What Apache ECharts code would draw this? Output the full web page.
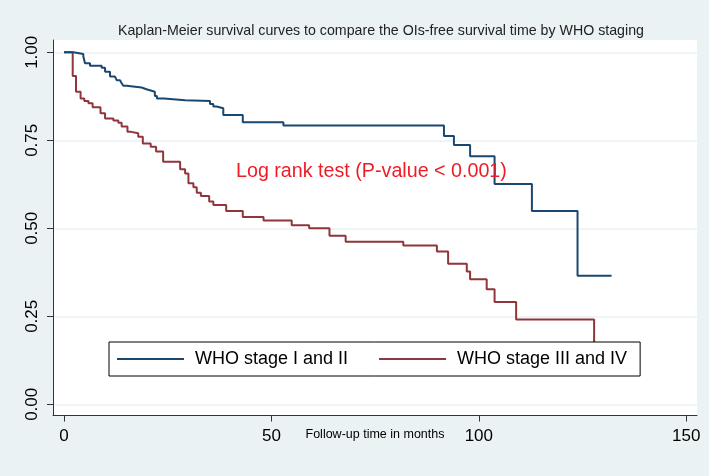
<!DOCTYPE html>
<html>
<head>
<meta charset="utf-8">
<script src="https://cdn.jsdelivr.net/npm/echarts@6/dist/echarts.min.js"></script>
<style>
html,body{margin:0;padding:0;background:#EAF2F3;}
#chart{width:709px;height:476px;}
</style>
</head>
<body>
<div id="chart"></div>
<script>
// ---- data ----
var titleText = 'Kaplan-Meier survival curves to compare the OIs-free survival time by WHO staging';
var xAxisName = 'Follow-up time in months';
var annotationText = 'Log rank test (P-value < 0.001)';
var seriesNames = ['WHO stage I and II', 'WHO stage III and IV'];
var xTicks = [0, 50, 100, 150];
var yTicks = [0, 0.25, 0.5, 0.75, 1];

// WHO stage I and II: time of each step and survival after it
var blueT = [0, 2.25, 4.66, 5.06, 6.27, 9.08, 9.9, 11.1, 12.3, 12.7, 13.5, 13.9, 14.3, 15.1, 18.7, 19.9, 21.1, 21.9, 22.4, 24.1, 29.2, 35.2, 36.0, 36.8, 38.4, 43.1, 52.9, 91.6, 94.0, 97.9, 103.8, 112.8, 123.8, 132.0];
var blueS = [1, 0.995, 0.989, 0.969, 0.962, 0.956, 0.945, 0.931, 0.926, 0.921, 0.917, 0.912, 0.905, 0.900, 0.895, 0.891, 0.888, 0.876, 0.869, 0.864, 0.862, 0.853, 0.846, 0.841, 0.822, 0.801, 0.792, 0.762, 0.737, 0.705, 0.626, 0.549, 0.365, 0.365];

// WHO stage III and IV
var redT = [0, 2.1, 2.9, 4.0, 4.9, 5.9, 6.9, 8.8, 9.9, 11.9, 13.1, 13.9, 15.3, 16.2, 17.9, 19.0, 20.9, 22.2, 23.9, 28.0, 29.2, 30.0, 31.2, 32.0, 33.0, 35.0, 36.0, 39.1, 43.1, 48.1, 54.9, 59.1, 64.0, 67.9, 81.8, 89.9, 92.6, 97.1, 97.9, 101.9, 103.8, 109.0, 127.8];
var redS = [1, 0.933, 0.888, 0.869, 0.862, 0.855, 0.844, 0.827, 0.812, 0.806, 0.800, 0.789, 0.774, 0.770, 0.760, 0.741, 0.732, 0.718, 0.689, 0.668, 0.656, 0.628, 0.617, 0.601, 0.592, 0.576, 0.566, 0.549, 0.532, 0.522, 0.509, 0.500, 0.479, 0.462, 0.451, 0.434, 0.399, 0.377, 0.355, 0.327, 0.291, 0.241, 0.17];

function pairs(t, s) { return t.map(function (v, i) { return [v, s[i]]; }); }

var chart = echarts.init(document.getElementById('chart'), null, {renderer: 'canvas'});
var FONT = '"Liberation Sans", Arial, Helvetica, sans-serif';
var LINE_ICON = 'path://M0,0 L67,0 L67,2 L0,2 Z';

chart.setOption({
  backgroundColor: '#EAF2F3',
  animation: false,
  textStyle: {fontFamily: FONT},
  title: {
    text: titleText,
    left: 118,
    top: 24,
    padding: 0,
    textStyle: {fontFamily: FONT, fontSize: 14.2, fontWeight: 'normal', color: '#222'}
  },
  grid: {
    left: 53, right: 12, top: 40, bottom: 60.5,
    show: true, backgroundColor: '#ffffff', borderWidth: 0
  },
  xAxis: {
    type: 'value',
    min: -2.65, max: 152.6,
    name: xAxisName,
    nameLocation: 'middle',
    nameGap: 13,
    nameMoveOverlap: false,
    nameTextStyle: {fontFamily: FONT, fontSize: 12.5, color: '#000', verticalAlign: 'top'},
    axisLine: {show: true, onZero: false, lineStyle: {color: '#333', width: 1}},
    axisTick: {show: true, length: 6, lineStyle: {color: '#333'}, customValues: xTicks},
    axisLabel: {customValues: xTicks, fontFamily: FONT, fontSize: 17, color: '#000', margin: 12},
    splitLine: {show: false}
  },
  yAxis: {
    type: 'value',
    min: -0.0318, max: 1.035,
    axisLine: {show: true, onZero: false, lineStyle: {color: '#333', width: 1}},
    axisTick: {show: true, length: 6, lineStyle: {color: '#333'}, customValues: yTicks},
    axisLabel: {
      customValues: yTicks, rotate: 90, fontFamily: FONT, fontSize: 17, color: '#000', margin: 12,
      formatter: function (v) { return v.toFixed(2); }
    },
    splitLine: {show: true, lineStyle: {color: '#EAF2F3', width: 1.5}}
  },
  legend: {
    left: 109, top: 342,
    orient: 'horizontal',
    padding: [8, 13, 8, 8],
    itemGap: 31,
    itemWidth: 67,
    itemHeight: 18,
    symbolKeepAspect: true,
    backgroundColor: '#ffffff',
    borderColor: '#000',
    borderWidth: 1,
    borderRadius: 0,
    textStyle: {fontFamily: FONT, fontSize: 18, color: '#000', padding: [0, 0, 0, 6]},
    data: [
      {name: seriesNames[0], icon: LINE_ICON, itemStyle: {color: '#1a476f'}},
      {name: seriesNames[1], icon: LINE_ICON, itemStyle: {color: '#90353b'}}
    ]
  },
  series: [
    {
      name: seriesNames[0], type: 'line', step: 'end', symbol: 'none',
      data: pairs(blueT, blueS),
      lineStyle: {color: '#1a476f', width: 2},
      itemStyle: {color: '#1a476f'},
      z: 3
    },
    {
      name: seriesNames[1], type: 'line', step: 'end', symbol: 'none',
      data: pairs(redT, redS),
      lineStyle: {color: '#90353b', width: 2},
      itemStyle: {color: '#90353b'},
      z: 2
    }
  ],
  graphic: [{
    type: 'text',
    left: 236, top: 162,
    z: 10,
    style: {text: annotationText, fill: '#ee1c25', font: '19.7px ' + FONT}
  }]
});
</script>
</body>
</html>
